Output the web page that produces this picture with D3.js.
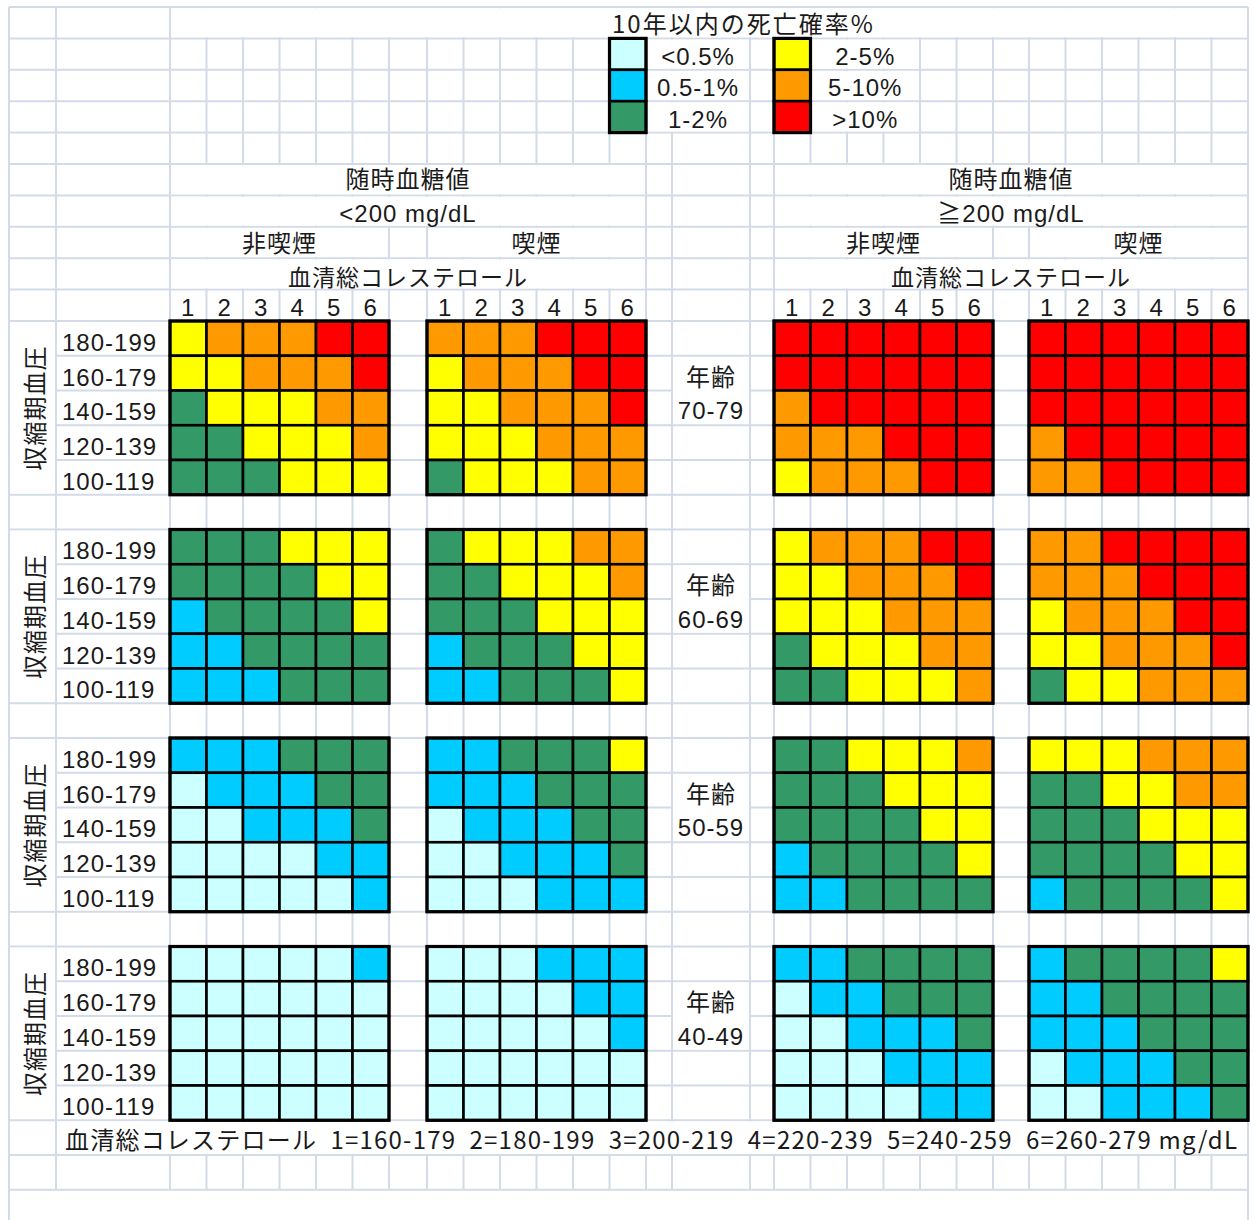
<!DOCTYPE html>
<html><head><meta charset="utf-8">
<script src="https://cdn.jsdelivr.net/npm/d3@7"></script>
<style>
html,body{margin:0;padding:0;background:#fff;}
svg{display:block;}
text{font-family:"Noto Sans CJK JP","Noto Sans",sans-serif;fill:#1a1a1a;font-size:24px;letter-spacing:1px;}
text.lat{font-family:"Liberation Sans","Noto Sans CJK JP",sans-serif;}
</style></head><body>
<svg id="chart" width="1254" height="1220"></svg>
<script>
// ================= DATA =================
const ageGroups = ["70-79", "60-69", "50-59", "40-49"];
const bpLabels = ["180-199", "160-179", "140-159", "120-139", "100-119"];
const cholLevels = ["1", "2", "3", "4", "5", "6"];
const cholRanges = ["1=160-179", "2=180-199", "3=200-219", "4=220-239", "5=240-259", "6=260-279"];
const riskLabels = ["<0.5%", "0.5-1%", "1-2%", "2-5%", "5-10%", ">10%"];
const legendTitle = "10年以内の死亡確率%";
const glucoseLabels = ["<200 mg/dL", "≧200 mg/dL"];
const smokingLabels = ["非喫煙", "喫煙"];

// risk class (index into riskLabels) : [age group][BP row, top→bottom][cholesterol 1..6]
const riskLowGlucoseNonSmoker = [
  [[3,4,4,4,5,5],[3,3,4,4,4,5],[2,3,3,3,4,4],[2,2,3,3,3,4],[2,2,2,3,3,3]],
  [[2,2,2,3,3,3],[2,2,2,2,3,3],[1,2,2,2,2,3],[1,1,2,2,2,2],[1,1,1,2,2,2]],
  [[1,1,1,2,2,2],[0,1,1,1,2,2],[0,0,1,1,1,2],[0,0,0,0,1,1],[0,0,0,0,0,1]],
  [[0,0,0,0,0,1],[0,0,0,0,0,0],[0,0,0,0,0,0],[0,0,0,0,0,0],[0,0,0,0,0,0]]
];
const riskLowGlucoseSmoker = [
  [[4,4,4,5,5,5],[3,4,4,4,5,5],[3,3,4,4,4,5],[3,3,3,4,4,4],[2,3,3,3,4,4]],
  [[2,3,3,3,4,4],[2,2,3,3,3,4],[2,2,2,3,3,3],[1,2,2,2,3,3],[1,1,2,2,2,3]],
  [[1,1,2,2,2,3],[1,1,1,2,2,2],[0,1,1,1,2,2],[0,0,1,1,1,2],[0,0,0,1,1,1]],
  [[0,0,0,1,1,1],[0,0,0,0,1,1],[0,0,0,0,0,1],[0,0,0,0,0,0],[0,0,0,0,0,0]]
];
const riskHighGlucoseNonSmoker = [
  [[5,5,5,5,5,5],[5,5,5,5,5,5],[4,5,5,5,5,5],[4,4,4,5,5,5],[3,4,4,4,5,5]],
  [[3,4,4,4,5,5],[3,3,4,4,4,5],[3,3,3,4,4,4],[2,3,3,3,4,4],[2,2,3,3,3,4]],
  [[2,2,3,3,3,4],[2,2,2,3,3,3],[2,2,2,2,3,3],[1,2,2,2,2,3],[1,1,2,2,2,2]],
  [[1,1,2,2,2,2],[0,1,1,2,2,2],[0,0,1,1,1,2],[0,0,0,1,1,1],[0,0,0,0,1,1]]
];
const riskHighGlucoseSmoker = [
  [[5,5,5,5,5,5],[5,5,5,5,5,5],[5,5,5,5,5,5],[4,5,5,5,5,5],[4,4,5,5,5,5]],
  [[4,4,5,5,5,5],[4,4,4,5,5,5],[3,4,4,4,5,5],[3,3,4,4,4,5],[2,3,3,4,4,4]],
  [[3,3,3,4,4,4],[2,2,3,3,4,4],[2,2,2,3,3,3],[2,2,2,2,3,3],[1,2,2,2,2,3]],
  [[1,2,2,2,2,3],[1,1,2,2,2,2],[1,1,1,2,2,2],[0,1,1,1,2,2],[0,0,1,1,1,2]]
];

// ================= STYLE / LAYOUT =================
const riskColors = ["#ccffff", "#00ccff", "#339966", "#ffff00", "#ff9900", "#ff0000"];
const gridColor = "#d3dae8";
const cw = 36.5, hRow = 31.4, dRow = 34.75;
const xLeft = 9, xCol1 = 56, xCol2 = 170, xRight = 1248, xAgeL = 672, xAgeR = 750;
const headTop = 7, dataTop = headTop + 10 * hRow;
const panelKeys = ["lowNon", "lowSmk", "highNon", "highSmk"];
const panelData = [riskLowGlucoseNonSmoker, riskLowGlucoseSmoker, riskHighGlucoseNonSmoker, riskHighGlucoseSmoker];

const svg = d3.select("#chart");
const xPanel = d3.scaleOrdinal().domain(panelKeys).range([170, 427, 774, 1029]);
const xChol = d3.scaleBand().domain(cholLevels).range([0, 6 * cw]);
const yAge = d3.scaleBand().domain(ageGroups).range([dataTop, dataTop + 23 * dRow]).paddingInner(1 / 6).paddingOuter(0);
const yBP = d3.scaleBand().domain(bpLabels).range([0, 5 * dRow]);
const color = d3.scaleOrdinal().domain(d3.range(riskLabels.length)).range(riskColors);
const panelEnd = k => xPanel(k) + xChol.range()[1];

// ---------- spreadsheet grid ----------
const xs = [xLeft, xCol1];
panelKeys.forEach(k => cholLevels.forEach(c => xs.push(xPanel(k) + xChol(c))));
panelKeys.forEach(k => xs.push(panelEnd(k)));
xs.push(xAgeL, xAgeR, xRight);
const ys = d3.range(11).map(i => headTop + i * hRow).concat(d3.range(1, 26).map(i => dataTop + i * dRow));
const gridBottom = ys[ys.length - 1];

const grid = svg.append("g").attr("stroke", gridColor).attr("stroke-width", 2);
grid.selectAll("line.v").data(xs).join("line").attr("class", "v")
  .attr("x1", d => d).attr("x2", d => d).attr("y1", headTop)
  .attr("y2", d => (d === xLeft || d === xRight) ? 1220 : gridBottom);
grid.selectAll("line.h").data(ys).join("line").attr("class", "h")
  .attr("x1", xLeft).attr("x2", xRight).attr("y1", d => d).attr("y2", d => d);

// merged / overflowing cells hide interior grid lines
const merges = [];
const hr = i => [headTop + i * hRow, headTop + (i + 1) * hRow];
merges.push([xCol2, xRight, ...hr(0)]);
[1, 2, 3].forEach(i => {
  merges.push([panelEnd("lowSmk"), xAgeR, ...hr(i)]);
  merges.push([xPanel("highNon") + cw, xPanel("highNon") + 4 * cw, ...hr(i)]);
});
[5, 6, 8].forEach(i => {
  merges.push([xCol2, panelEnd("lowSmk"), ...hr(i)]);
  merges.push([xPanel("highNon"), xRight, ...hr(i)]);
});
panelKeys.forEach(k => merges.push([xPanel(k), panelEnd(k), ...hr(7)]));
ageGroups.forEach(a => {
  const t = yAge(a);
  merges.push([xLeft, xCol1, t, t + 5 * dRow]);
  merges.push([xAgeL, xAgeR, t + dRow, t + 3 * dRow]);
});
const footTop = dataTop + 23 * dRow;
merges.push([xCol1, xRight, footTop, footTop + dRow]);
svg.append("g").selectAll("rect").data(merges).join("rect")
  .attr("x", d => d[0] + 1.2).attr("y", d => d[2] + 1.2)
  .attr("width", d => d[1] - d[0] - 2.4).attr("height", d => d[3] - d[2] - 2.4)
  .attr("fill", "#fff");

// ---------- risk cells ----------
const cells = [];
panelKeys.forEach((k, pi) => ageGroups.forEach((a, ai) => bpLabels.forEach((b, bi) =>
  cholLevels.forEach((c, ci) => cells.push({ k, a, b, c, v: panelData[pi][ai][bi][ci] })))));
svg.append("g").selectAll("rect").data(cells).join("rect")
  .attr("x", d => xPanel(d.k) + xChol(d.c))
  .attr("y", d => yAge(d.a) + yBP(d.b))
  .attr("width", xChol.bandwidth()).attr("height", yBP.bandwidth())
  .attr("fill", d => color(d.v)).attr("stroke", "#000").attr("stroke-width", 2.6);
const blocks = [];
panelKeys.forEach(k => ageGroups.forEach(a => blocks.push({ k, a })));
svg.append("g").selectAll("rect").data(blocks).join("rect")
  .attr("x", d => xPanel(d.k)).attr("y", d => yAge(d.a))
  .attr("width", xChol.range()[1]).attr("height", yBP.range()[1])
  .attr("fill", "none").attr("stroke", "#000").attr("stroke-width", 3.2);

// ---------- legend ----------
const legendCol = i => i < 3 ? panelEnd("lowSmk") - cw : xPanel("highNon");
const legendRow = i => headTop + (1 + (i % 3)) * hRow;
const lg = svg.append("g");
lg.selectAll("rect.sw").data(riskLabels).join("rect").attr("class", "sw")
  .attr("x", (d, i) => legendCol(i)).attr("y", (d, i) => legendRow(i))
  .attr("width", cw).attr("height", hRow)
  .attr("fill", (d, i) => color(i)).attr("stroke", "#000").attr("stroke-width", 2.6);
[0, 3].forEach(s => lg.append("rect").attr("x", legendCol(s)).attr("y", legendRow(0))
  .attr("width", cw).attr("height", 3 * hRow).attr("fill", "none").attr("stroke", "#000").attr("stroke-width", 3.2));
lg.selectAll("text.lt").data(riskLabels).join("text").attr("class", "lt lat")
  .attr("x", (d, i) => i < 3 ? (panelEnd("lowSmk") + xAgeR) / 2 : xPanel("highNon") + 2.5 * cw)
  .attr("y", (d, i) => legendRow(i) + hRow - 5)
  .attr("text-anchor", "middle").text(d => d);
lg.append("text").attr("x", 612).attr("y", headTop + hRow - 5)
  .style("letter-spacing", "2px").text(legendTitle);

// ---------- headers ----------
const hdr = svg.append("g").attr("text-anchor", "middle");
const groupsX = [[xCol2, panelEnd("lowSmk")], [xPanel("highNon"), xRight]];
groupsX.forEach((g, gi) => {
  const cx = (g[0] + g[1]) / 2;
  hdr.append("text").attr("x", cx).attr("y", hr(5)[1] - 7.5).text("随時血糖値");
  hdr.append("text").attr("x", cx).attr("y", hr(6)[1] - 4.5).attr("class", "lat").text(glucoseLabels[gi]);
  hdr.append("text").attr("x", cx).attr("y", hr(8)[1] - 3.6)
    .style("font-size", "23px").text("血清総コレステロール");
});
panelKeys.forEach((k, pi) => {
  hdr.append("text").attr("x", xPanel(k) + 3 * cw).attr("y", hr(7)[1] - 6.2).text(smokingLabels[pi % 2]);
  hdr.selectAll(null).data(cholLevels).join("text").attr("class", "lat")
    .attr("x", c => xPanel(k) + xChol(c) + xChol.bandwidth() / 2)
    .attr("y", hr(9)[1] - 5).text(c => c);
});

// ---------- row labels, axis titles, age labels ----------
ageGroups.forEach(a => {
  const t = yAge(a);
  svg.append("g").selectAll("text").data(bpLabels).join("text").attr("class", "lat")
    .attr("x", 62).attr("y", b => t + yBP(b) + yBP.bandwidth() - 5).text(b => b);
  svg.append("text").attr("transform", `translate(${(xLeft + xCol1) / 2 + 1},${t + 2.5 * dRow}) rotate(-90)`)
    .attr("text-anchor", "middle").attr("dominant-baseline", "central").text("収縮期血圧");
  const cx = (xAgeL + xAgeR) / 2;
  svg.append("text").attr("x", cx).attr("y", t + 2 * dRow - 5).attr("text-anchor", "middle").text("年齢");
  svg.append("text").attr("x", cx).attr("y", t + 3 * dRow - 6).attr("text-anchor", "middle")
    .attr("class", "lat").text(a);
});

// ---------- footer ----------
svg.append("text").attr("x", 65).attr("y", footTop + dRow - 6)
  .style("white-space", "pre").attr("textLength", 1173).attr("lengthAdjust", "spacing")
  .text("血清総コレステロール  " + cholRanges.join("  ") + " mg/dL");
</script>
</body></html>
